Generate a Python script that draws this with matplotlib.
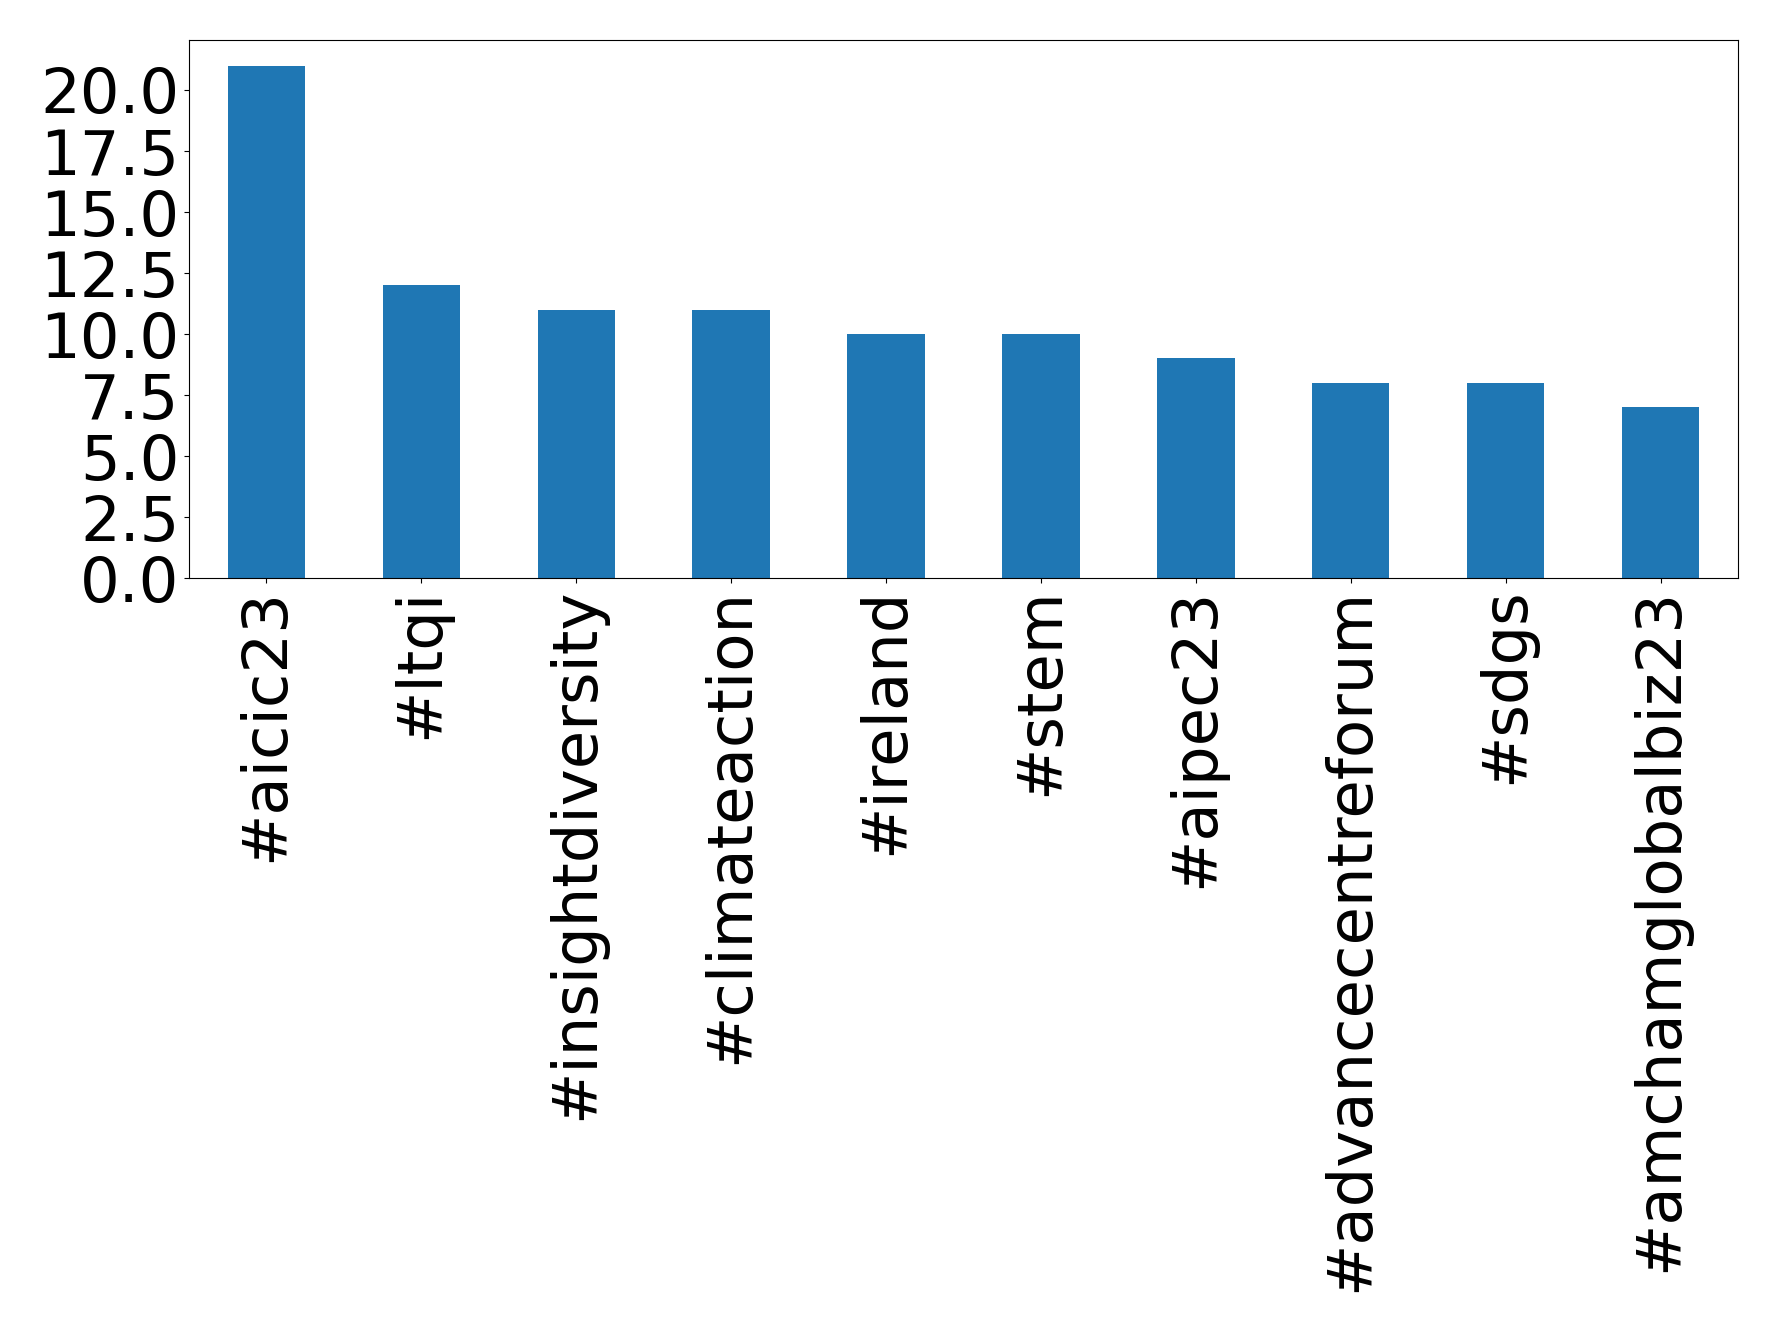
import matplotlib
matplotlib.use('Agg')
import matplotlib.pyplot as plt
import pandas as pd

hashtags = ['#aicic23', '#ltqi', '#insightdiversity', '#climateaction', '#ireland',
            '#stem', '#aipec23', '#advancecentreforum', '#sdgs', '#amchamglobalbiz23']
counts = [21, 12, 11, 11, 10, 10, 9, 8, 8, 7]

series = pd.Series(counts, index=hashtags)

fig, ax = plt.subplots(figsize=(17.78, 13.32), dpi=100)
series.plot(kind='bar', ax=ax, fontsize=45)
fig.subplots_adjust(left=0.1063, right=0.9775, top=0.970, bottom=0.566)
fig.savefig('out.png', dpi=100)
